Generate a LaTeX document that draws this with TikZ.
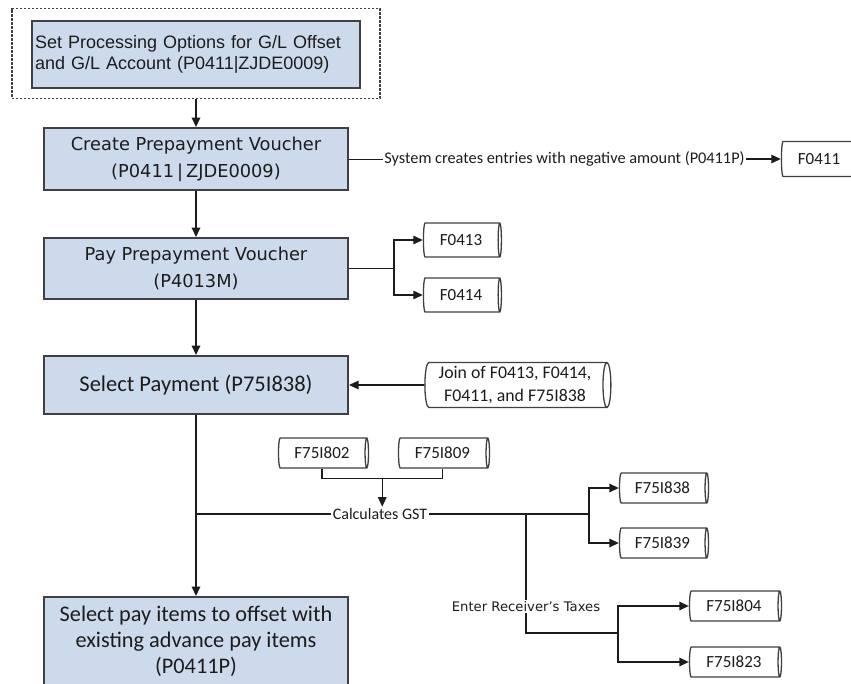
\documentclass[tikz,border=0pt]{standalone}
\usepackage{fontspec}
\setmainfont{Carlito}
\newfontfamily\tahfont{DejaVu Sans}
\newfontfamily\arifont{Liberation Sans}
\usetikzlibrary{arrows.meta,shapes.geometric,calc}
\definecolor{boxfill}{RGB}{205,218,236}
\definecolor{boxline}{RGB}{64,64,64}
\definecolor{ink}{RGB}{28,28,28}
\begin{document}
\begin{tikzpicture}[x=1pt,y=-1pt,
  procbox/.style={draw=boxline, line width=2pt, fill=boxfill, text=ink, align=center, inner sep=0pt, minimum width=304},
  dbcyl/.style={cylinder, draw=boxline, line width=1.3pt, fill=white, text=ink, shape aspect=0.25, minimum width=30, inner sep=1pt, font=\fontsize{17}{19}\selectfont},
  tip/.style={-{Triangle[length=9.5pt,width=8.5pt]}},
  mainarr/.style={tip, line width=2pt, draw=ink},
  thin/.style={line width=1.3pt, draw=ink},
  lbl/.style={text=ink, inner sep=1.5pt}
]
\useasboundingbox (0,0) rectangle (851,683);

% process boxes
\node[draw=boxline, line width=1.6pt, dash pattern=on 2.2pt off 1.8pt, minimum width=368, minimum height=90, inner sep=0pt] (dash) at (196,53.5) {};
\node[procbox, minimum width=328, minimum height=67, align=left, text width=322, font=\arifont\fontsize{18}{20.5}\selectfont] (b1) at (196,54.5) {Set Processing Options for G/L Offset\\and G/L Account (P0411|ZJDE0009)};
\node[procbox, minimum height=62, font=\tahfont\fontsize{17.8}{27}\selectfont] (b2) at (196,159) {Create Prepayment Voucher\\(P0411\,|\,ZJDE0009)};
\node[procbox, minimum height=61, font=\tahfont\fontsize{17.8}{27}\selectfont] (b3) at (196,268.5) {Pay Prepayment Voucher\\(P4013M)};
\node[procbox, minimum height=58, font=\fontsize{22.5}{26}\selectfont] (b4) at (196,385) {Select Payment (P75I838)};
\node[procbox, minimum height=88, font=\fontsize{22.3}{26}\selectfont] (b5) at (196,641) {Select pay items to offset with\\existing advance pay items\\(P0411P)};

% data stores
\node[dbcyl, minimum height=78, minimum width=35] (f0411) at (819,159) {F0411};
\node[dbcyl, minimum height=78, minimum width=34] (f0413) at (461,240) {F0413};
\node[dbcyl, minimum height=78, minimum width=34] (f0414) at (461,295) {F0414};
\node[dbcyl, minimum height=186, minimum width=45, align=center, shape aspect=0.2, font=\fontsize{17.8}{23}\selectfont] (join) at (515,385) {Join of F0413, F0414,\\F0411, and F75I838};
\node[dbcyl, minimum height=90] (f802) at (322,453) {F75I802};
\node[dbcyl, minimum height=91] (f809) at (442.5,453) {F75I809};
\node[dbcyl, minimum height=89] (f838) at (662.5,488) {F75I838};
\node[dbcyl, minimum height=89] (f839) at (662.5,543) {F75I839};
\node[dbcyl, minimum height=92] (f804) at (734,606) {F75I804};
\node[dbcyl, minimum height=92] (f823) at (734,662) {F75I823};

% labels
\node[lbl, font=\fontsize{16.3}{18}\selectfont] (sys) at (564.5,159) {System creates entries with negative amount (P0411P)};
\node[lbl, font=\fontsize{16}{18}\selectfont] (calc) at (380,514) {Calculates GST};

% connectors
\draw[mainarr] (dash.south) -- (b2.north);
\draw[thin, line width=1pt] (b2.east) -- (sys.west);
\draw[thin, tip] (sys.east) -- (sys.east -| f0411.west);
\draw[mainarr] (b2.south) -- (b3.north);
\draw[thin] (b3.east) -- ++(45,0) coordinate (br3);
\draw[thin, tip] (br3) |- (f0413.west);
\draw[thin, tip] (br3) |- (f0414.west);
\draw[mainarr] (b3.south) -- (b4.north);
\draw[thin, tip] (join.west) -- (join.west -| b4.east);
\draw[mainarr] (b4.south) -- (b5.north);
\draw[thin] (f802.south) -- ++(0,10) coordinate (c802) -| (f809.south);
\coordinate (mid) at ($(c802)!0.5!(c802 -| f809.south)$);
\draw[thin, tip] (mid) -- (mid |- calc.north);
\draw[thin] (b4.south |- calc.west) -- (calc.west);
\coordinate (br838) at (589,514);
\coordinate (jt) at (526,514);
\coordinate (br804) at (618,633);
\draw[thin] (calc.east) -- (br838);
\draw[thin, tip] (br838) |- (f838.west);
\draw[thin, tip] (br838) |- (f839.west);
\draw[thin] (jt) -- node[pos=0.78, lbl, fill=white, font=\tahfont\fontsize{13.2}{15}\selectfont] (ert) {Enter Receiver’s Taxes} (jt |- br804) -- (br804);
\draw[thin, tip] (br804) |- (f804.west);
\draw[thin, tip] (br804) |- (f823.west);
\end{tikzpicture}
\end{document}
